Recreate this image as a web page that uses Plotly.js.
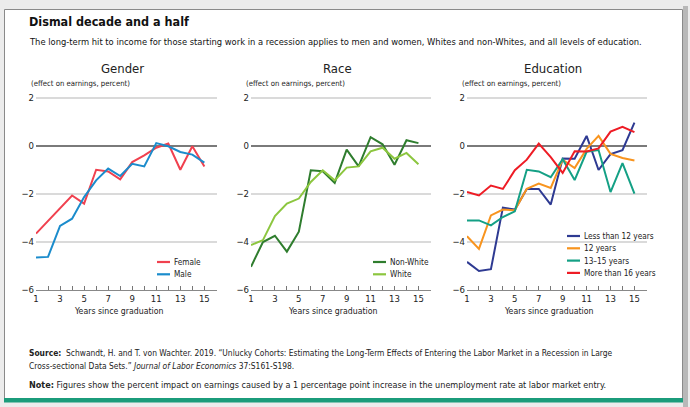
<!DOCTYPE html>
<html>
<head>
<meta charset="utf-8">
<script src="https://cdn.plot.ly/plotly-3.0.1.min.js"></script>
<style>html,body{margin:0;padding:0;background:#ececec;}#chart{width:690px;height:407px;}</style>
</head>
<body>
<div id="chart"></div>
<script>
// ---------- DATA ----------
const years = [1,2,3,4,5,6,7,8,9,10,11,12,13,14,15];
const xTickVals = [1,2,3,4,5,6,7,8,9,10,11,12,13,14,15];
const xTickText = ['1','','3','','5','','7','','9','','11','','13','','15'];
const yTickVals = [-6,-4,-2,0,2];

const panelTitles = ['Gender', 'Race', 'Education'];

const genderNames = ['Female', 'Male'];
const female = [-3.65,-3.13,-2.61,-2.06,-2.40,-0.99,-1.06,-1.39,-0.67,-0.39,-0.07,0.10,-0.99,-0.01,-0.85];
const male   = [-4.65,-4.62,-3.33,-3.03,-2.13,-1.43,-0.94,-1.25,-0.74,-0.85,0.12,-0.01,-0.25,-0.36,-0.69];

const raceNames = ['Non-White', 'White'];
const nonWhite = [-5.03,-4.00,-3.74,-4.40,-3.57,-1.01,-1.05,-1.54,-0.15,-0.85,0.37,0.07,-0.78,0.24,0.12];
const white    = [-4.13,-3.92,-2.92,-2.40,-2.19,-1.50,-1.01,-1.43,-0.90,-0.85,-0.22,-0.07,-0.53,-0.29,-0.76];

const eduNames = ['Less than 12 years', '12 years', '13\u201315 years', 'More than 16 years'];
const lessThan12 = [-4.83,-5.21,-5.13,-2.57,-2.65,-1.79,-1.79,-2.44,-0.52,-0.53,0.42,-1.00,-0.34,-0.17,0.97];
const twelveYrs  = [-3.76,-4.29,-2.89,-2.65,-2.68,-1.78,-1.57,-1.75,-0.57,-0.92,-0.12,0.42,-0.33,-0.50,-0.60];
const thirteen15 = [-3.10,-3.10,-3.31,-2.96,-2.72,-0.99,-1.06,-1.30,-0.55,-1.42,-0.24,-0.17,-1.92,-0.71,-1.98];
const moreThan16 = [-1.92,-2.06,-1.65,-1.79,-1.01,-0.57,0.10,-0.46,-1.12,-0.22,-0.23,-0.10,0.60,0.80,0.58];

const titleText = 'Dismal decade and a half';
const subtitleText = 'The long-term hit to income for those starting work in a recession applies to men and women, Whites and non-Whites, and all levels of education.';
const yLabelText = '(effect on earnings, percent)';
const xLabelText = 'Years since graduation';
const sourceLine1 = '<b>Source:</b>  Schwandt, H. and T. von Wachter. 2019. \u201cUnlucky Cohorts: Estimating the Long-Term Effects of Entering the Labor Market in a Recession in Large';
const sourceLine2 = 'Cross-sectional Data Sets.\u201d <i>Journal of Labor Economics</i> 37:S161-S198.';
const noteText = '<b>Note:</b> Figures show the percent impact on earnings caused by a 1 percentage point increase in the unemployment rate at labor market entry.';

// ---------- STYLE / LAYOUT ----------
const W = 690, H = 407;
const FONT = '"Liberation Sans Narrow", "Arial Narrow", "DejaVu Sans Condensed", sans-serif';
const px = v => v / W;
const py = v => 1 - v / H;

const panels = [
  {left: 36,  right: 217, names: genderNames, series: [female, male], colors: ['#f0414f', '#1b8ccc'], legX: 157, legY: 262},
  {left: 251, right: 431, names: raceNames, series: [nonWhite, white], colors: ['#2f7d2e', '#8cc63f'], legX: 373, legY: 262},
  {left: 467, right: 647, names: eduNames, series: [lessThan12, twelveYrs, thirteen15, moreThan16], colors: ['#2e3a92', '#f8941e', '#14a085', '#ee1c25'], legX: 567, legY: 236}
];
const plotTop = 96.8, plotBottom = 290;
const legStep = 12.3;

const traces = [];
const layout = {
  width: W, height: H,
  margin: {l: 0, r: 0, t: 0, b: 0},
  paper_bgcolor: '#ececec',
  plot_bgcolor: 'rgba(0,0,0,0)',
  showlegend: false,
  font: {family: FONT, color: '#222'},
  shapes: [],
  annotations: []
};

// Box background
layout.shapes.push({type: 'rect', xref: 'paper', yref: 'paper', x0: px(683), x1: px(688), y0: py(407), y1: py(6), fillcolor: '#b8b8b8', line: {width: 0}, layer: 'below'});
layout.shapes.push({type: 'rect', xref: 'paper', yref: 'paper', x0: px(4.5), x1: px(682.5), y0: py(399), y1: py(9.5), fillcolor: '#ffffff', line: {color: '#8a8a8a', width: 1}, layer: 'below'});
layout.shapes.push({type: 'rect', xref: 'paper', yref: 'paper', x0: px(4), x1: px(683), y0: py(402.5), y1: py(398), fillcolor: '#1b9c7b', line: {width: 0}, layer: 'below'});

panels.forEach((p, i) => {
  const n = i === 0 ? '' : String(i + 1);
  const xa = 'x' + n, ya = 'y' + n;
  layout['xaxis' + n] = {
    domain: [px(p.left), px(p.right)],
    range: [1, 16.05],
    anchor: ya,
    tickvals: xTickVals, ticktext: xTickText,
    ticks: 'inside', ticklen: 4, tickwidth: 1, tickcolor: '#777',
    showline: true, linecolor: '#888', linewidth: 1,
    showgrid: false, zeroline: false,
    tickfont: {family: FONT, size: 9.5, color: '#222'},
    fixedrange: true
  };
  layout['yaxis' + n] = {
    domain: [py(plotBottom), py(plotTop)],
    range: [-6, 2.05],
    anchor: xa,
    tickvals: yTickVals,
    ticks: '',
    showgrid: true, gridcolor: '#dadada', gridwidth: 2,
    zeroline: true, zerolinecolor: '#7a7a7a', zerolinewidth: 1.2,
    showline: false,
    tickfont: {family: FONT, size: 9.5, color: '#222'},
    ticklabelstandoff: 1,
    fixedrange: true
  };
  p.series.forEach((s, j) => {
    traces.push({
      type: 'scatter', mode: 'lines', x: years, y: s, name: p.names[j],
      xaxis: xa, yaxis: ya,
      line: {color: p.colors[j], width: 2}, hoverinfo: 'skip'
    });
    // legend entry
    const ly = p.legY + j * legStep;
    layout.shapes.push({type: 'line', xref: 'paper', yref: 'paper', x0: px(p.legX), x1: px(p.legX + 13), y0: py(ly), y1: py(ly), line: {color: p.colors[j], width: 2.2}});
    layout.annotations.push({xref: 'paper', yref: 'paper', x: px(p.legX + 14.5), y: py(ly), xanchor: 'left', yanchor: 'middle', text: p.names[j], showarrow: false, font: {family: FONT, size: 8.2, color: '#222'}});
  });
  // panel title
  layout.annotations.push({xref: xa, yref: 'paper', x: 8.2, y: py(68), xanchor: 'center', yanchor: 'middle', text: panelTitles[i], showarrow: false, font: {family: FONT, size: 13, color: '#222'}});
  // y label
  layout.annotations.push({xref: 'paper', yref: 'paper', x: px(p.left - 7), y: py(84), xanchor: 'left', yanchor: 'middle', text: yLabelText, showarrow: false, font: {family: FONT, size: 7.7, color: '#222'}});
  // x label
  layout.annotations.push({xref: xa, yref: 'paper', x: 7.85, y: py(311), xanchor: 'center', yanchor: 'middle', text: xLabelText, showarrow: false, font: {family: FONT, size: 8.7, color: '#222'}});
});

// Titles and notes
layout.annotations.push({xref: 'paper', yref: 'paper', x: px(27), y: py(21), xanchor: 'left', yanchor: 'middle', text: '<b>' + titleText + '</b>', showarrow: false, font: {family: FONT, size: 12.5, color: '#111'}});
layout.annotations.push({xref: 'paper', yref: 'paper', x: px(27), y: py(41), xanchor: 'left', yanchor: 'middle', text: subtitleText, showarrow: false, font: {family: FONT, size: 9.3, color: '#111'}});
layout.annotations.push({xref: 'paper', yref: 'paper', x: px(27), y: py(353), xanchor: 'left', yanchor: 'middle', text: sourceLine1, showarrow: false, font: {family: FONT, size: 8.4, color: '#222'}});
layout.annotations.push({xref: 'paper', yref: 'paper', x: px(27), y: py(366), xanchor: 'left', yanchor: 'middle', text: sourceLine2, showarrow: false, font: {family: FONT, size: 8.4, color: '#222'}});
layout.annotations.push({xref: 'paper', yref: 'paper', x: px(27), y: py(385), xanchor: 'left', yanchor: 'middle', text: noteText, showarrow: false, font: {family: FONT, size: 9, color: '#222'}});

Plotly.newPlot('chart', traces, layout, {staticPlot: true, displayModeBar: false});
</script>
</body>
</html>
